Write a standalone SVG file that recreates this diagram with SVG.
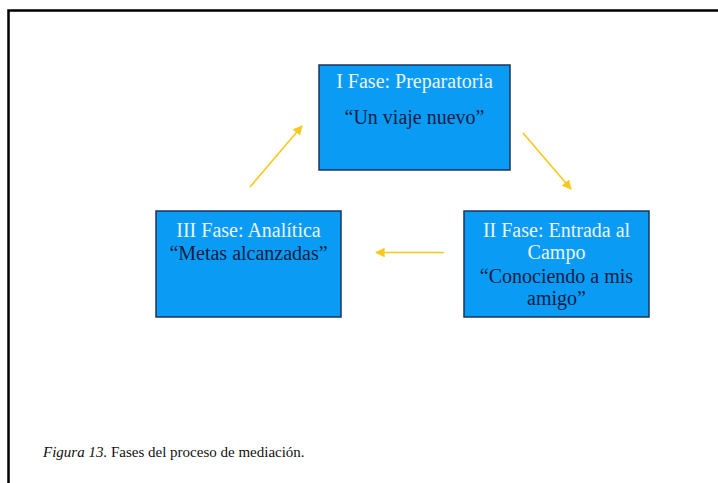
<svg xmlns="http://www.w3.org/2000/svg" width="718" height="483" viewBox="0 0 718 483">
<defs>
<style>
.box{fill:#0a9bf5;stroke:#1d3557;stroke-width:1.5}
.t{font-family:"Liberation Serif","Times New Roman",serif;font-size:20px;text-anchor:middle}
.hd{fill:#eaf4ff}
.q{fill:#0b1e45}
.arr{stroke:#f7c81e;stroke-width:1.6;fill:none;marker-end:url(#ah)}
.cap{font-family:"Liberation Serif","Times New Roman",serif;font-size:15px;fill:#111}
</style>
<marker id="ah" viewBox="0 0 10 10" refX="9" refY="5" markerWidth="6" markerHeight="6" orient="auto" markerUnits="strokeWidth">
<path d="M0,0 L10,5 L0,10 z" fill="#f7c81e"/>
</marker>
</defs>
<rect width="718" height="483" fill="#fff"/>
<rect x="8.5" y="10.5" width="720" height="480" fill="none" stroke="#000" stroke-width="2.5"/>
<g id="connectors">
<line class="arr" x1="250" y1="187" x2="302" y2="126"/>
<line class="arr" x1="523" y1="133" x2="571" y2="189"/>
<line class="arr" x1="444" y1="252.5" x2="376" y2="252.5"/>
</g>
<g id="node-fase1">
<rect class="box" x="319" y="65" width="191" height="105"/>
<text class="t hd" x="414.5" y="88">I Fase: Preparatoria</text>
<text class="t q" x="414.5" y="124">“Un viaje nuevo”</text>
</g>
<g id="node-fase3">
<rect class="box" x="156" y="211" width="185" height="106"/>
<text class="t hd" x="248.5" y="237">III Fase: Analítica</text>
<text class="t q" x="248.5" y="260">“Metas alcanzadas”</text>
</g>
<g id="node-fase2">
<rect class="box" x="464" y="211" width="185" height="106"/>
<text class="t hd" x="556.5" y="237">II Fase: Entrada al</text>
<text class="t hd" x="556.5" y="259">Campo</text>
<text class="t q" x="556.5" y="283">“Conociendo a mis</text>
<text class="t q" x="556.5" y="305">amigo”</text>
</g>
<text class="cap" x="43" y="457"><tspan font-style="italic">Figura 13.</tspan> Fases del proceso de mediación.</text>
</svg>
